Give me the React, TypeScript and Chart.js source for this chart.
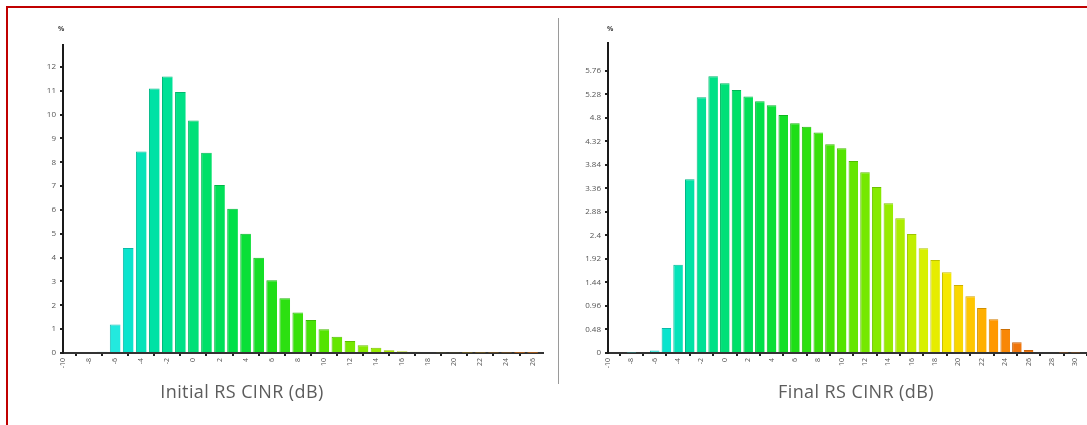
import React, { useEffect, useRef } from "react";
import { Chart, registerables } from "chart.js";

Chart.register(...registerables);

// ---------- data ----------
const cinrBins = [
  -10, -9, -8, -7, -6, -5, -4, -3, -2, -1, 0, 1, 2, 3, 4, 5, 6, 7, 8, 9, 10,
  11, 12, 13, 14, 15, 16, 17, 18, 19, 20, 21, 22, 23, 24, 25, 26, 27, 28, 29, 30,
];

// Initial RS CINR distribution (%), bins -10 .. 26 dB
const initialPct = [
  0, 0, 0.04, 0.05, 1.2, 4.4, 8.45, 11.1, 11.6, 10.95, 9.75, 8.4, 7.05, 6.05,
  5.0, 4.0, 3.05, 2.3, 1.7, 1.38, 1.0, 0.68, 0.5, 0.33, 0.22, 0.12, 0.07, 0.05,
  0.04, 0.03, 0.03, 0.02, 0.02, 0.02, 0.02, 0.01, 0.01,
];

// Final RS CINR distribution (%), bins -10 .. 30 dB
const finalPct = [
  0, 0, 0.01, 0.02, 0.05, 0.51, 1.8, 3.55, 5.22, 5.65, 5.51, 5.37, 5.24, 5.14,
  5.06, 4.86, 4.69, 4.62, 4.5, 4.26, 4.18, 3.92, 3.69, 3.39, 3.06, 2.75, 2.43,
  2.14, 1.9, 1.65, 1.39, 1.16, 0.92, 0.69, 0.49, 0.22, 0.06, 0.02, 0.02, 0.01,
  0.01,
];

const initialYTicks = [0, 1, 2, 3, 4, 5, 6, 7, 8, 9, 10, 11, 12];
const finalYTicks = [0, 0.48, 0.96, 1.44, 1.92, 2.4, 2.88, 3.36, 3.84, 4.32, 4.8, 5.28, 5.76];
const initialXTicks = [-10, -8, -6, -4, -2, 0, 2, 4, 6, 8, 10, 12, 14, 16, 18, 20, 22, 24, 26];
const finalXTicks = [-10, -8, -6, -4, -2, 0, 2, 4, 6, 8, 10, 12, 14, 16, 18, 20, 22, 24, 26, 28, 30];

const initialTitle = "Initial RS CINR (dB)";
const finalTitle = "Final RS CINR (dB)";

// ---------- styling ----------
const colorStops: [number, number[]][] = [
  [-7, [60, 238, 238]],
  [-5, [10, 228, 205]],
  [-3, [0, 226, 165]],
  [0, [0, 224, 120]],
  [3, [0, 224, 72]],
  [6, [30, 222, 22]],
  [10, [84, 228, 0]],
  [14, [150, 236, 0]],
  [17, [215, 240, 0]],
  [19, [245, 232, 0]],
  [21, [255, 198, 0]],
  [23, [255, 152, 0]],
  [25, [240, 118, 12]],
];

function colorAt(x: number, k = 1): string {
  let c = colorStops[0][1];
  if (x >= colorStops[colorStops.length - 1][0]) {
    c = colorStops[colorStops.length - 1][1];
  } else if (x > colorStops[0][0]) {
    for (let i = 0; i < colorStops.length - 1; i++) {
      const [x0, c0] = colorStops[i];
      const [x1, c1] = colorStops[i + 1];
      if (x >= x0 && x <= x1) {
        const t = (x - x0) / (x1 - x0);
        c = c0.map((v, j) => v + (c1[j] - v) * t);
        break;
      }
    }
  }
  return `rgb(${Math.round(c[0] * k)},${Math.round(c[1] * k)},${Math.round(c[2] * k)})`;
}

type Spec = {
  values: number[];
  xMin: number;
  xMax: number;
  yMax: number;
  yTicks: number[];
  xTicks: number[];
  yWidth: number;
  xHeight: number;
  padTop: number;
  padRight: number;
  yFont: number;
};

function makeConfig(s: Spec): any {
  const points = s.values.map((v, i) => ({ x: cinrBins[i], y: v }));
  return {
    type: "bar",
    data: {
      datasets: [
        {
          data: points,
          backgroundColor: (ctx: any) => colorAt(ctx.raw ? ctx.raw.x : 0),
          borderColor: (ctx: any) => colorAt(ctx.raw ? ctx.raw.x : 0, 0.82),
          borderWidth: { left: 1, top: 1, right: 0, bottom: 0 },
          barPercentage: 0.82,
          categoryPercentage: 1,
          grouped: false,
        },
      ],
    },
    options: {
      animation: false,
      responsive: false,
      maintainAspectRatio: false,
      events: [],
      layout: { padding: { top: s.padTop, right: s.padRight, left: 0, bottom: 0 } },
      plugins: {
        legend: { display: false },
        tooltip: { enabled: false },
        title: { display: false },
      },
      scales: {
        x: {
          type: "linear",
          min: s.xMin,
          max: s.xMax,
          offset: false,
          afterBuildTicks: (axis: any) => {
            axis.ticks = s.xTicks.map((v) => ({ value: v }));
          },
          afterFit: (axis: any) => {
            axis.height = s.xHeight;
          },
          ticks: {
            autoSkip: false,
            minRotation: 90,
            maxRotation: 90,
            padding: 2,
            color: "#555",
            font: { family: "'Open Sans', sans-serif", size: 7 },
            callback: (v: any) => String(v),
          },
          grid: {
            display: true,
            drawOnChartArea: false,
            drawTicks: true,
            tickLength: 3,
            color: "#222",
            lineWidth: 2,
          },
          border: { display: true, color: "#333", width: 2 },
        },
        y: {
          type: "linear",
          min: 0,
          max: s.yMax,
          afterBuildTicks: (axis: any) => {
            axis.ticks = s.yTicks.map((v) => ({ value: v }));
          },
          afterFit: (axis: any) => {
            axis.width = s.yWidth;
          },
          ticks: {
            padding: 4,
            color: "#555",
            font: { family: "'Open Sans', sans-serif", size: s.yFont },
            callback: (v: any) => String(v),
          },
          grid: {
            display: true,
            drawOnChartArea: false,
            drawTicks: true,
            tickLength: 3,
            color: "#222",
            lineWidth: 2,
          },
          border: { display: true, color: "#1a1a1a", width: 2 },
        },
      },
    },
  };
}

function BarCanvas(props: { spec: Spec; left: number; width: number; height: number }) {
  const ref = useRef<HTMLCanvasElement | null>(null);
  useEffect(() => {
    if (!ref.current) return;
    const chart = new Chart(ref.current, makeConfig(props.spec));
    return () => chart.destroy();
  }, []);
  return (
    <canvas
      ref={ref}
      width={props.width}
      height={props.height}
      style={{ position: "absolute", left: props.left, top: 0, width: props.width, height: props.height }}
    />
  );
}

const titleStyle: React.CSSProperties = {
  position: "absolute",
  top: 382,
  fontFamily: "'Open Sans', sans-serif",
  fontSize: 18,
  lineHeight: "18px",
  letterSpacing: 0.4,
  color: "#5c5c5c",
  whiteSpace: "nowrap",
  transform: "translateX(-50%)",
};

const pctStyle: React.CSSProperties = {
  position: "absolute",
  top: 24,
  fontFamily: "'Open Sans', sans-serif",
  fontSize: 7,
  fontWeight: 700,
  color: "#444",
};

export default function App() {
  const leftSpec: Spec = {
    values: initialPct,
    xMin: -10,
    xMax: 26.8,
    yMax: 12.92,
    yTicks: initialYTicks,
    xTicks: initialXTicks,
    yWidth: 63,
    xHeight: 72,
    padTop: 45,
    padRight: 13,
    yFont: 8,
  };
  const rightSpec: Spec = {
    values: finalPct,
    xMin: -10,
    xMax: 31,
    yMax: 6.33,
    yTicks: finalYTicks,
    xTicks: finalXTicks,
    yWidth: 48,
    xHeight: 72,
    padTop: 43,
    padRight: 0,
    yFont: 8,
  };
  return (
    <div
      style={{
        position: "absolute",
        left: 0,
        top: 0,
        width: 1087,
        height: 425,
        overflow: "hidden",
        background: "#ffffff",
      }}
    >
      <BarCanvas spec={leftSpec} left={0} width={556} height={425} />
      <BarCanvas spec={rightSpec} left={560} width={527} height={425} />
      <div style={{ position: "absolute", left: 558, top: 18, width: 1, height: 366, background: "#9a9a9a" }} />
      <div style={{ ...pctStyle, left: 58 }}>%</div>
      <div style={{ ...pctStyle, left: 607 }}>%</div>
      <div style={{ ...titleStyle, left: 242 }}>{initialTitle}</div>
      <div style={{ ...titleStyle, left: 856 }}>{finalTitle}</div>
      <div
        style={{
          position: "absolute",
          left: 6,
          top: 6,
          width: 1200,
          height: 600,
          borderLeft: "2px solid #c00000",
          borderTop: "2px solid #c00000",
          pointerEvents: "none",
        }}
      />
    </div>
  );
}
